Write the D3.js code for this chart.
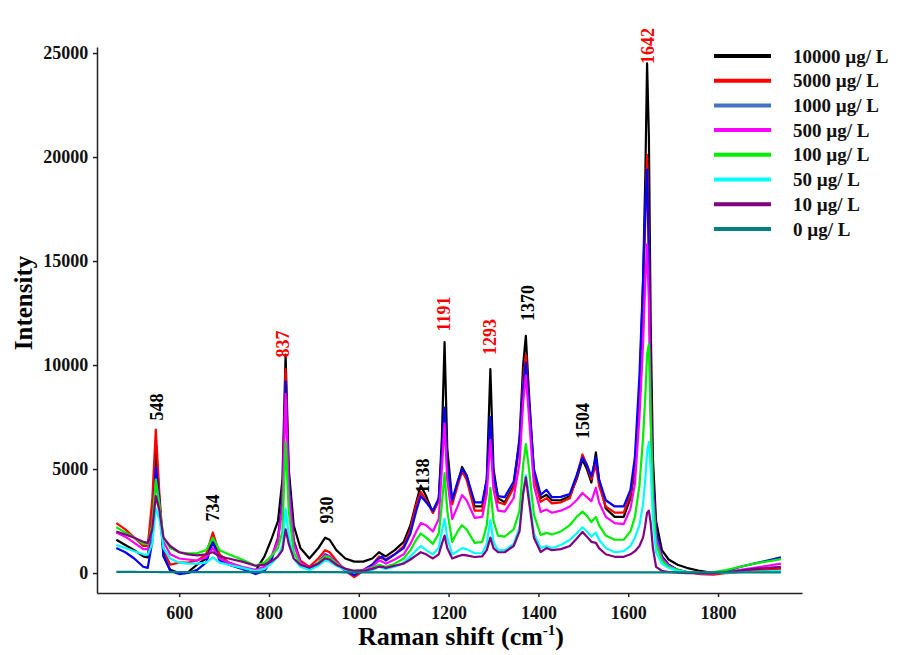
<!DOCTYPE html>
<html><head><meta charset="utf-8">
<script src="https://cdn.jsdelivr.net/npm/d3@7"></script>
<style>body{margin:0;background:#fff}svg{display:block}</style>
</head><body><svg id="c" width="898" height="655"></svg>
<script>
const shifts=[460,480,500,520,530,540,548,556,565,580,600,620,640,660,675,690,710,740,770,790,805,820,830,837,844,855,870,890,910,925,935,950,970,990,1010,1030,1045,1052,1060,1080,1100,1115,1128,1138,1150,1165,1178,1185,1191,1197,1208,1220,1230,1240,1258,1275,1285,1293,1300,1310,1325,1345,1358,1366,1372,1378,1390,1405,1418,1430,1450,1470,1485,1498,1508,1518,1528,1535,1550,1570,1590,1605,1615,1625,1633,1638,1642,1646,1650,1655,1662,1675,1690,1710,1730,1760,1790,1820,1850,1880,1910,1940];
const s10000=[1600,1350,1100,800,750,2500,6200,3500,800,150,0,50,400,700,1700,700,500,250,100,800,1600,2500,4500,10500,5000,2300,1200,700,1200,1700,1600,1100,700,550,550,700,1000,900,800,1100,1500,2300,3400,4200,3700,2900,3500,6500,11100,6000,3500,4300,5100,4700,3200,3200,4500,9800,5000,3600,3400,4200,6500,10000,11400,9000,4800,3600,3760,3500,3500,3700,4500,5450,5000,4350,5800,4500,3100,2700,2700,3600,5000,8500,14000,19000,24500,21000,12000,5500,2500,1100,650,400,250,100,0,50,100,150,200,250];
const s5000=[2400,2100,1700,1300,1300,3500,6900,3800,1100,400,500,500,600,900,1950,900,500,250,0,200,700,1700,3500,9800,4500,1600,600,300,700,1100,1000,600,100,-200,100,400,800,700,650,900,1300,2100,3300,3900,3500,2900,3500,5500,7700,5000,3300,4200,4900,4500,3000,3000,4300,7300,4500,3400,3300,4100,6200,9200,10500,8500,4600,3420,3600,3350,3400,3600,4600,5700,5200,4500,5200,4200,3200,2900,2900,3800,5200,8500,13000,17000,20100,16000,9000,4500,2000,800,400,150,50,-50,-80,0,50,100,150,200];
const s1000=[1200,1000,700,300,250,1500,5100,3500,900,100,-50,0,150,500,1500,600,400,200,-50,100,600,1600,3500,9200,4500,1500,500,200,500,900,800,500,100,-100,150,400,700,800,600,900,1200,1900,3000,3700,3400,3000,3600,5800,7950,5200,3500,4400,5000,4700,3400,3400,4500,7500,4700,3700,3650,4400,6300,8900,10100,8500,5000,3760,4000,3650,3660,3800,4700,5550,5200,4650,5550,4500,3500,3200,3200,4000,5600,9500,14000,17500,19400,15000,8500,4500,2000,800,400,150,50,0,0,100,300,450,600,750];
const s500=[1950,1750,1450,1150,1150,2300,4400,3200,1500,900,700,650,600,750,1200,700,500,300,150,300,800,1500,3200,8600,4000,1400,500,250,500,850,800,500,200,100,150,300,600,550,450,650,900,1400,2000,2400,2300,2000,2600,5000,7200,4500,2600,3200,3750,3500,2650,2700,3800,6400,4000,3000,2950,3600,5300,8200,9500,7800,4200,2940,3050,2900,3000,3200,3500,3850,3650,3450,4100,3400,2700,2400,2350,3100,4300,7500,11000,14000,15800,13000,7500,4000,1700,700,350,150,50,0,0,50,150,250,350,450];
const s100=[2200,1950,1700,1400,1400,2300,4500,3300,1700,1200,1000,950,950,1100,1700,1100,900,650,350,500,800,1200,2000,6300,3000,1000,400,200,500,800,750,450,200,100,100,250,400,350,300,450,700,1100,1600,1900,1700,1400,1900,3300,4800,3000,1500,2000,2300,2100,1450,1500,2300,4100,2500,1800,1750,2100,3000,5200,6200,5200,2800,1830,1930,1850,2000,2300,2700,2950,2750,2450,2700,2300,1800,1600,1600,2000,2700,4200,6500,8500,10500,11000,7500,3600,1400,600,300,150,50,0,50,150,300,450,560,670];
const s50=[1350,1200,1050,900,880,1400,3100,2600,1200,700,500,450,450,500,750,500,400,250,100,200,450,800,1300,3100,1800,700,300,150,350,600,550,350,150,50,50,150,300,250,200,300,500,800,1100,1300,1100,900,1200,2000,2600,1700,900,1050,1200,1150,950,950,1400,2550,1500,1100,1100,1400,2200,3900,4700,3900,1900,1200,1300,1200,1350,1600,1900,2200,2000,1750,1950,1600,1200,1000,1050,1300,1700,2300,3300,4500,5800,6300,5000,2600,1000,450,250,100,50,0,0,20,50,60,80,100];
const s10=[2000,1850,1700,1500,1450,2100,3700,3000,1700,1300,1000,900,850,900,1000,800,700,550,350,400,550,800,1100,2100,1400,700,400,250,450,700,650,400,200,100,100,200,300,300,250,350,450,650,850,1000,900,700,900,1400,1800,1200,700,800,870,850,770,800,1100,1700,1200,1000,1000,1300,2000,3800,4600,3600,1700,1010,1200,1100,1150,1300,1650,1980,1750,1500,1450,1200,900,780,780,900,1050,1300,1700,2300,2900,3000,2400,1200,300,100,50,20,0,0,0,50,120,200,250,300];
const s0=[60,60,55,50,50,50,50,45,45,40,40,40,40,40,40,40,40,40,40,40,40,40,40,40,40,40,40,40,40,40,40,40,35,35,35,35,35,35,35,35,35,35,35,35,35,35,35,35,35,35,35,35,35,35,35,35,35,35,35,35,35,35,35,35,35,35,35,35,35,35,35,35,35,35,35,35,35,35,35,35,35,35,35,35,35,35,35,35,35,35,35,35,35,35,35,35,35,35,35,35,35,35];
const seriesLabels=["10000 µg/ L","5000 µg/ L","1000 µg/ L","500 µg/ L","100 µg/ L","50 µg/ L","10 µg/ L","0 µg/ L"];
const seriesData=[s10000,s5000,s1000,s500,s100,s50,s10,s0];
const lineColors=["#000000","#ff0000","#0000ff","#ff00ff","#00ee00","#00ffff","#800080","#008080"];
const legendColors=["#000000","#ff0000","#4472c4","#ff00ff","#00ee00","#00ffff","#800080","#008080"];
const peakText=["548","734","837","930","1138","1191","1293","1370","1504","1642"];
const peakAtShift=[551,675,831,929,1143,1188,1292,1377,1499,1644];
const peakAtIntensity=[7980,3125,11010,3030,4660,12450,11350,12980,7310,25340];
const peakRed=[false,false,true,false,false,true,true,false,false,true];
const xTicks=[600,800,1000,1200,1400,1600,1800];
const yTicks=[0,5000,10000,15000,20000,25000];

const svg=d3.select("#c");
const x=d3.scaleLinear().domain([417,1987]).range([97,802]);
const y=d3.scaleLinear().domain([-960,25290]).range([593,47]);
const serif="'Liberation Serif','Times New Roman',serif";

const line=d3.line().x((d,i)=>x(shifts[i])).y(d=>y(d));
seriesData.forEach((s,k)=>{
  svg.append("path").attr("d",line(s)).attr("fill","none")
    .attr("stroke",lineColors[k]).attr("stroke-width",2.2).attr("stroke-linejoin","round");
});

const xa=svg.append("g").attr("transform","translate(0,593)")
  .call(d3.axisBottom(x).tickValues(xTicks).tickSize(4).tickSizeOuter(0).tickFormat(d3.format("d")));
const ya=svg.append("g").attr("transform","translate(97,0)")
  .call(d3.axisLeft(y).tickValues(yTicks).tickSize(4).tickSizeOuter(0).tickFormat(d3.format("d")));
[xa,ya].forEach(a=>{
  a.selectAll("path,line").attr("stroke","#222").attr("stroke-width",1.5);
  a.selectAll("text").attr("font-family",serif).attr("font-weight","bold").attr("font-size",18).attr("fill","#111");
});
xa.selectAll("text").attr("dy","1.05em");
ya.selectAll("text").attr("dx","-0.1em");

svg.append("text").attr("x",461).attr("y",645).attr("text-anchor","middle")
  .attr("font-family",serif).attr("font-weight","bold").attr("font-size",26)
  .html('Raman shift (cm<tspan dy="-10" font-size="15">-1</tspan><tspan dy="10">)</tspan>');
svg.append("text").attr("transform","translate(32,303) rotate(-90)").attr("text-anchor","middle")
  .attr("font-family",serif).attr("font-weight","bold").attr("font-size",25).text("Intensity");

peakText.forEach((t,i)=>{
  svg.append("text").attr("transform",`translate(${x(peakAtShift[i])},${y(peakAtIntensity[i])}) rotate(-90)`)
    .attr("text-anchor","middle").attr("dy","0.35em")
    .attr("font-family",serif).attr("font-weight","bold").attr("font-size",18)
    .attr("fill",peakRed[i]?"#ff0000":"#000").text(t);
});

const lg=svg.append("g");
seriesLabels.forEach((t,i)=>{
  const yy=56+i*24.7;
  lg.append("line").attr("x1",714).attr("x2",771).attr("y1",yy).attr("y2",yy)
    .attr("stroke",legendColors[i]).attr("stroke-width",4);
  lg.append("text").attr("x",793).attr("y",yy).attr("dy","0.35em")
    .attr("font-family",serif).attr("font-weight","bold").attr("font-size",19).attr("fill","#111").text(t);
});
</script></body></html>
